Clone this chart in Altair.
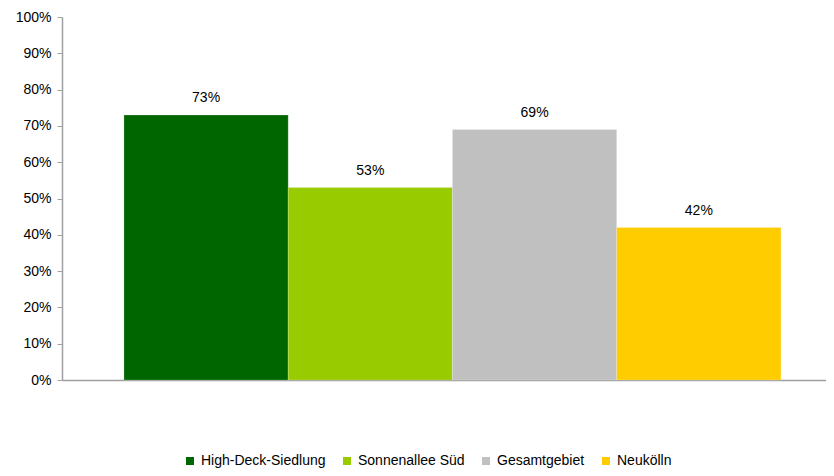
import altair as alt
import pandas as pd

series = ["High-Deck-Siedlung", "Sonnenallee Süd", "Gesamtgebiet", "Neukölln"]
values = [0.73, 0.53, 0.69, 0.42]
colors = ["#006600", "#99cc00", "#c0c0c0", "#ffcc00"]
y_ticks = [i / 10 for i in range(11)]

df = pd.DataFrame({"serie": series, "wert": values})
FONT = "Liberation Sans Narrow, Arial Narrow, Liberation Sans, Arial"

x = alt.X("serie:N", sort=series,
          scale=alt.Scale(paddingInner=0, paddingOuter=0.3257, align=0.579, round=False),
          axis=alt.Axis(labels=False, ticks=False, title=None,
                        domainColor="#a0a0a0", domainWidth=1.5))
y = alt.Y("wert:Q", scale=alt.Scale(domain=[0, 1], nice=False),
          axis=alt.Axis(values=y_ticks, format=".0%", title=None, grid=False,
                        labelOverlap=False,
                        domainColor="#a0a0a0", domainWidth=1.5,
                        tickColor="#a0a0a0", tickSize=5, tickWidth=1,
                        labelFont=FONT, labelFontSize=14, labelColor="#000000",
                        labelPadding=6))

bars = alt.Chart(df).mark_bar(stroke="white", strokeOpacity=0.4, strokeWidth=0.5).encode(
    x=x, y=y,
    color=alt.Color("serie:N", sort=series,
                    scale=alt.Scale(domain=series, range=colors),
                    legend=alt.Legend(title=None, orient="none", direction="horizontal",
                                      legendX=121, legendY=437,
                                      symbolType="square", symbolSize=64,
                                      symbolStrokeWidth=0, symbolOffset=0,
                                      labelFont=FONT, labelFontSize=14,
                                      labelColor="#000000", labelOffset=4,
                                      columnPadding=14))
)

text = alt.Chart(df).mark_text(baseline="bottom", dy=-10, font=FONT, fontSize=14,
                               color="#000000").encode(
    x=x, y=y,
    text=alt.Text("wert:Q", format=".0%"))

chart = (bars + text).properties(
    width=764, height=363,
    autosize=alt.AutoSizeParams(type="none"),
    padding={"left": 54, "top": 9, "right": 0, "bottom": 88},
).configure_view(stroke=None)

chart.save("out.html", embed_options={"renderer": "svg", "actions": False})
